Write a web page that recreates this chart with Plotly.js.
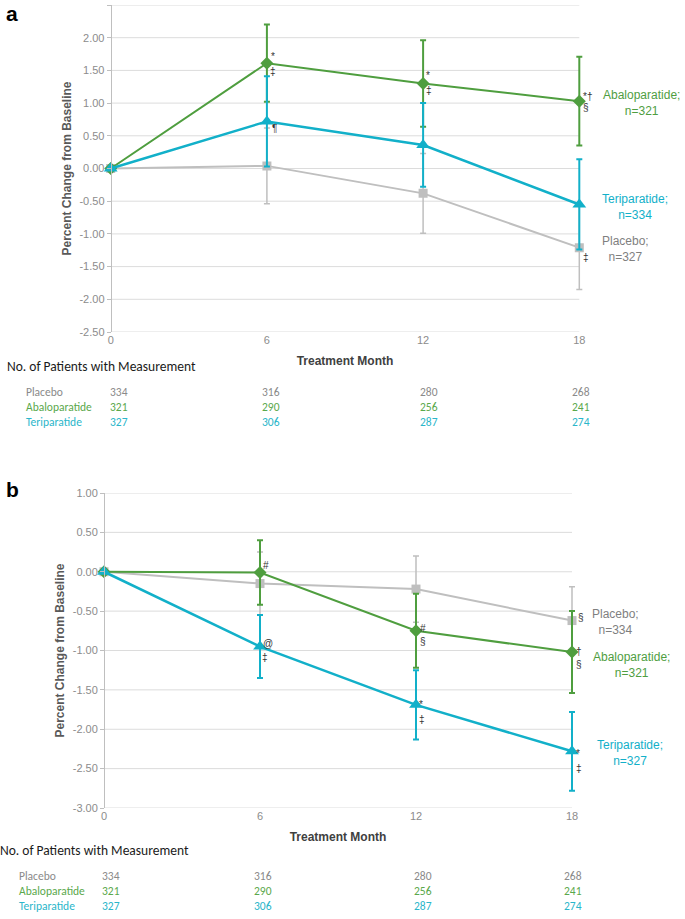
<!DOCTYPE html>
<html>
<head>
<meta charset="utf-8">
<script src="https://cdn.plot.ly/plotly-3.0.1.min.js"></script>
<style>html,body{margin:0;padding:0;background:#fff}#chart{width:685px;height:919px}</style>
</head>
<body>
<div id="chart"></div>
<script>
// ---------- data ----------
const months = [0, 6, 12, 18];
const monthLabels = ['0', '6', '12', '18'];

// panel a
const aPlacebo = [0, 0.04, -0.38, -1.21];
const aPlaceboErr = [0, 0.58, 0.61, 0.64];
const aAbalo = [0, 1.61, 1.30, 1.03];
const aAbaloErr = [0, 0.59, 0.66, 0.68];
const aTeri = [0, 0.72, 0.36, -0.55];
const aTeriErr = [0, 0.69, 0.64, 0.69];
const aTickVals = [2.5, 2, 1.5, 1, 0.5, 0, -0.5, -1, -1.5, -2, -2.5];
const aTickText = ['2.50', '2.00', '1.50', '1.00', '0.50', '0.00', '-0.50', '-1.00', '-1.50', '-2.00', '-2.50'];

// panel b
const bPlacebo = [0, -0.15, -0.22, -0.62];
const bPlaceboErr = [0, 0.40, 0.42, 0.43];
const bAbalo = [0, -0.01, -0.75, -1.02];
const bAbaloErr = [0, 0.41, 0.47, 0.52];
const bTeri = [0, -0.95, -1.69, -2.28];
const bTeriErr = [0, 0.40, 0.44, 0.50];
const bTickVals = [1, 0.5, 0, -0.5, -1, -1.5, -2, -2.5, -3];
const bTickText = ['1.00', '0.50', '0.00', '-0.50', '-1.00', '-1.50', '-2.00', '-2.50', '-3.00'];

// series labels
const aLabelAbalo = 'Abaloparatide;<br>n=321';
const aLabelTeri = 'Teriparatide;<br>n=334';
const aLabelPlacebo = 'Placebo;<br>n=327';
const bLabelPlacebo = 'Placebo;<br>n=334';
const bLabelAbalo = 'Abaloparatide;<br>n=321';
const bLabelTeri = 'Teriparatide;<br>n=327';

// patients table
const tableRows = ['Placebo', 'Abaloparatide', 'Teriparatide'];
const nPlacebo = [334, 316, 280, 268];
const nAbalo = [321, 290, 256, 241];
const nTeri = [327, 306, 287, 274];

// footnote markers: [series, month index, symbol]
const aMarks = [['abalo', 1, '*'], ['abalo', 1, '‡'], ['teri', 1, '¶'],
                ['abalo', 2, '*'], ['abalo', 2, '‡'],
                ['abalo', 3, '*†'], ['abalo', 3, '§'], ['placebo', 3, '‡']];
const bMarks = [['abalo', 1, '#'], ['teri', 1, '@'], ['teri', 1, '‡'],
                ['abalo', 2, '#'], ['abalo', 2, '§'], ['teri', 2, '*'], ['teri', 2, '‡'],
                ['placebo', 3, '§'], ['abalo', 3, '†'], ['abalo', 3, '§'], ['teri', 3, '*'], ['teri', 3, '‡']];

// ---------- style ----------
const W = 685, H = 919;
const px = x => x / W;
const py = y => 1 - y / H;
const GREEN = '#4f9e3f', TEAL = '#12b0c9', GRAYM = '#bfbfbf';
const GRAYTXT = '#7f7f7f';
const TBL_GRAY = '#8a8a8a', TBL_GREEN = '#5aa84b', TBL_TEAL = '#2ab6ca';
const FONT = 'Liberation Sans, Arial, sans-serif';
const TFONT = 'Carlito, Calibri, Lato, sans-serif';
const GRID = '#dcdcdc';
const XPAD = 0.5; // month padding so end markers are not clipped

function series(x, y, err, name, color, symbol, size, lw, xa, ya, thick) {
  return {
    type: 'scatter', mode: 'lines+markers', x: x, y: y, name: name,
    xaxis: xa, yaxis: ya, showlegend: false, hoverinfo: 'skip',
    line: {color: color, width: lw},
    marker: {color: color, symbol: symbol, size: size},
    error_y: {type: 'data', array: err, visible: true, color: color, thickness: thick, width: 3}
  };
}

// horizontal gridlines at every y tick, drawn as a line trace spanning the month axis
function gridTrace(tickVals, xa, ya) {
  const gx = [], gy = [];
  tickVals.forEach(v => {
    gx.push(months[0], months[months.length - 1], null);
    gy.push(v, v, null);
  });
  return {
    type: 'scatter', mode: 'lines', x: gx, y: gy, xaxis: xa, yaxis: ya,
    showlegend: false, hoverinfo: 'skip', cliponaxis: false,
    line: {color: GRID, width: 1}
  };
}

const data = [
  gridTrace(aTickVals, 'x', 'y'),
  gridTrace(bTickVals, 'x2', 'y2'),
  series(months, aPlacebo, aPlaceboErr, 'Placebo', GRAYM, 'square', 9, 2, 'x', 'y', 1.5),
  series(months, aAbalo, aAbaloErr, 'Abaloparatide', GREEN, 'diamond', 10, 2, 'x', 'y', 2),
  series(months, aTeri, aTeriErr, 'Teriparatide', TEAL, 'triangle-up', 12, 2.5, 'x', 'y', 2),
  series(months, bPlacebo, bPlaceboErr, 'Placebo', GRAYM, 'square', 9, 2, 'x2', 'y2', 1.5),
  series(months, bAbalo, bAbaloErr, 'Abaloparatide', GREEN, 'diamond', 10, 2, 'x2', 'y2', 2),
  series(months, bTeri, bTeriErr, 'Teriparatide', TEAL, 'triangle-up', 12, 2.5, 'x2', 'y2', 2)
];

// left/right pixel edges of the 0..18 month span, widened by XPAD months
function xDomain(left, right) {
  const ppm = (right - left) / 18;
  return [px(left - XPAD * ppm), px(right + XPAD * ppm)];
}
function xAxis(left, right, anchor) {
  return {
    domain: xDomain(left, right), anchor: anchor, range: [-XPAD, 18 + XPAD], tickmode: 'array',
    tickvals: months, ticktext: monthLabels, showgrid: false, zeroline: false,
    showline: false, ticks: '', tickfont: {family: FONT, size: 11, color: '#8c8c8c'},
    title: {text: 'Treatment Month', font: {family: FONT, size: 12, color: '#404040', weight: 'bold'}, standoff: 11}
  };
}
function yAxis(domain, left, range, tv, tt) {
  return {
    domain: domain, anchor: 'free', position: px(left), range: range, tickmode: 'array',
    tickvals: tv, ticktext: tt, showgrid: false,
    zeroline: false, showline: true, linecolor: '#bfbfbf', linewidth: 1,
    ticks: 'outside', ticklen: 4, tickcolor: '#bfbfbf',
    tickfont: {family: FONT, size: 11, color: '#8c8c8c'},
    title: {text: 'Percent Change from Baseline', font: {family: FONT, size: 12, color: '#595959', weight: 'bold'}, standoff: 4}
  };
}

const annotations = [];
function txt(x, y, text, color, size, opts) {
  annotations.push(Object.assign({
    xref: 'paper', yref: 'paper', x: px(x), y: py(y), text: text, showarrow: false,
    xanchor: 'center', yanchor: 'middle',
    font: {family: FONT, size: size, color: color}
  }, opts || {}));
}

// panel letters
txt(4, 0, '<b>a</b>', '#000', 21, {xanchor: 'left', yanchor: 'top'});
txt(4, 476, '<b>b</b>', '#000', 21, {xanchor: 'left', yanchor: 'top'});

// series labels
txt(641, 103, aLabelAbalo, GREEN, 12);
txt(635, 207, aLabelTeri, TEAL, 12);
txt(625, 249, aLabelPlacebo, GRAYTXT, 12);
txt(615, 622, bLabelPlacebo, GRAYTXT, 12);
txt(631, 665, bLabelAbalo, GREEN, 12);
txt(630, 753, bLabelTeri, TEAL, 12);

// footnote marks placed relative to the data points
const markShift = {
  a: [[6, -6.5], [6.4, 7.8], [8, 7], [4.7, -7.5], [6, 7], [8, -4.4], [6.5, 6], [6.5, 10]],
  b: [[6, -7], [7.7, -3], [5, 11], [6.7, -2], [6.7, 11], [4.7, 0], [6.3, 14.6], [8.7, -3], [7.3, -1], [7, 12.4], [6.3, 2.4], [7.3, 17.4]]
};
const aSeries = {placebo: aPlacebo, abalo: aAbalo, teri: aTeri};
const bSeries = {placebo: bPlacebo, abalo: bAbalo, teri: bTeri};
aMarks.forEach((m, i) => {
  annotations.push({xref: 'x', yref: 'y', x: months[m[1]], y: aSeries[m[0]][m[1]], text: m[2],
    showarrow: false, xanchor: 'center', yanchor: 'middle',
    xshift: markShift.a[i][0], yshift: -markShift.a[i][1],
    font: {family: FONT, size: 10, color: '#333333'}});
});
bMarks.forEach((m, i) => {
  annotations.push({xref: 'x2', yref: 'y2', x: months[m[1]], y: bSeries[m[0]][m[1]], text: m[2],
    showarrow: false, xanchor: 'center', yanchor: 'middle',
    xshift: markShift.b[i][0], yshift: -markShift.b[i][1],
    font: {family: FONT, size: 10, color: '#333333'}});
});

// patient tables
function table(titleY, rowY, labelX, colX) {
  txt(labelX[0], titleY, 'No. of Patients with Measurement', '#1a1a1a', 13.5, {xanchor: 'left', font: {family: TFONT, size: 13.5, color: '#1a1a1a'}});
  const rowsN = [nPlacebo, nAbalo, nTeri];
  const cols = [TBL_GRAY, TBL_GREEN, TBL_TEAL];
  tableRows.forEach((r, i) => {
    txt(labelX[1], rowY[i], r, cols[i], 11.5, {xanchor: 'left', font: {family: TFONT, size: 11.5, color: cols[i]}});
    rowsN[i].forEach((v, j) => {
      txt(colX[j], rowY[i], String(v), cols[i], 11.5, {xanchor: 'left', font: {family: TFONT, size: 11.5, color: cols[i]}});
    });
  });
}
table(366.7, [392.3, 407.3, 422.3], [5, 23.5], [107.5, 260, 418, 570]);
table(850, [876, 890.7, 905.7], [-2, 16.5], [100, 252, 411.5, 561.5]);

const layout = {
  width: W, height: H, margin: {l: 0, r: 0, t: 0, b: 0},
  paper_bgcolor: '#ffffff', plot_bgcolor: 'rgba(0,0,0,0)', showlegend: false,
  font: {family: FONT},
  xaxis: xAxis(110.7, 579.3, 'y'),
  yaxis: yAxis([py(332), py(5)], 110.7, [-2.5, 2.5], aTickVals, aTickText),
  xaxis2: xAxis(104, 572, 'y2'),
  yaxis2: yAxis([py(808), py(493)], 104, [-3, 1], bTickVals, bTickText),
  annotations: annotations
};

Plotly.newPlot('chart', data, layout, {displayModeBar: false, staticPlot: true});
</script>
</body>
</html>
